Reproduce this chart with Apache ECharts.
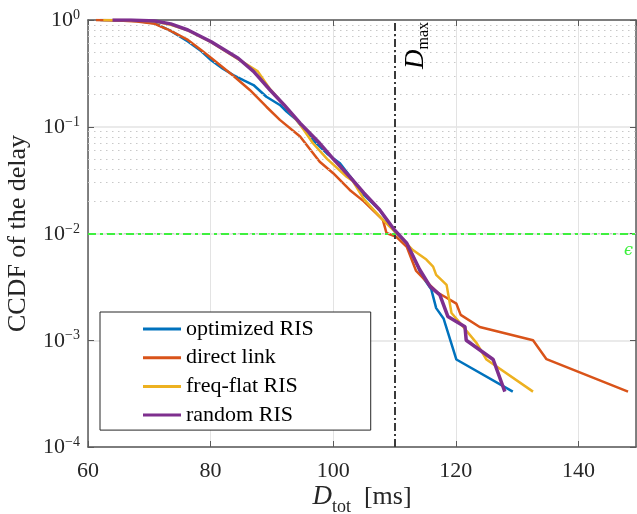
<!DOCTYPE html>
<html><head><meta charset="utf-8">
<script src="https://cdn.jsdelivr.net/npm/echarts@6/dist/echarts.min.js"></script>
<style>html,body{margin:0;padding:0;background:#fff}#c{width:637px;height:514px}</style>
</head><body><div id="c"></div>
<script>
const seriesNames = ['optimized RIS', 'direct link', 'freq-flat RIS', 'random RIS'];
const seriesColors = ['#0072BD', '#D95319', '#EDB120', '#7E2F8E'];

const optX = [62, 65, 68, 70.9, 73.5, 76.3, 78.5, 80.1, 82, 83.7, 85.5, 87, 89.1, 91.3, 92.4, 94, 96.7, 99, 101.1, 103, 105, 107.6, 110, 112, 113, 114.5, 116, 116.8, 118, 120.1, 129.3];
const optY = [1.0, 0.995, 0.98, 0.93, 0.79, 0.63, 0.51, 0.42, 0.35, 0.305, 0.27, 0.246, 0.191, 0.16, 0.139, 0.116, 0.075, 0.056, 0.0455, 0.033, 0.023, 0.0166, 0.0105, 0.0081, 0.0062, 0.0040, 0.0030, 0.0020, 0.0016, 0.00066, 0.00033];

const dirX = [61.3, 65, 68, 70.9, 73.5, 76.3, 78.5, 80.1, 83.7, 86.4, 89.1, 91.3, 94.6, 97.8, 100, 102.7, 105, 108.1, 108.7, 110.3, 112, 113.5, 115.5, 117, 118.5, 119, 120.1, 120.8, 123.9, 132.6, 134.8, 148.1];
const dirY = [1.0, 0.99, 0.97, 0.92, 0.79, 0.65, 0.52, 0.44, 0.3, 0.221, 0.154, 0.116, 0.081, 0.047, 0.0367, 0.0256, 0.02, 0.0134, 0.0101, 0.0093, 0.0075, 0.0045, 0.0034, 0.0028, 0.0025, 0.0024, 0.0022, 0.00173, 0.00133, 0.001, 0.000665, 0.00033];

const ffX = [62.5, 65, 68, 70.9, 73.5, 76.3, 80.1, 84.5, 87.7, 89.7, 92, 94.6, 96.7, 99, 102.2, 103.2, 105, 108.1, 110.3, 113, 115.2, 116.3, 116.8, 118.5, 119.3, 121.2, 123.4, 125, 132.6];
const ffY = [1.0, 1.0, 0.99, 0.97, 0.9, 0.8, 0.62, 0.43, 0.33, 0.225, 0.16, 0.105, 0.07, 0.05, 0.034, 0.031, 0.021, 0.0134, 0.0101, 0.007, 0.0057, 0.0049, 0.0041, 0.0033, 0.0018, 0.00134, 0.00094, 0.00066, 0.00033];

const rndX = [64, 67, 70.9, 73.5, 76.3, 80.1, 84.5, 87, 89.7, 92, 94.6, 97.8, 100, 102.7, 105, 107.6, 110, 112, 114.1, 115.8, 117.4, 118.7, 121.5, 121.7, 126.1, 128];
const rndY = [1.0, 1.0, 0.978, 0.92, 0.806, 0.626, 0.438, 0.33, 0.221, 0.16, 0.108, 0.07, 0.05, 0.034, 0.024, 0.0166, 0.0108, 0.0081, 0.0046, 0.0032, 0.00266, 0.00167, 0.00134, 0.001, 0.00066, 0.00033];

const xTicks = [60, 80, 100, 120, 140];
const yDecades = [1e-4, 1e-3, 1e-2, 1e-1, 1];
const minorMultiples = [2, 3, 4, 5, 6, 7, 8, 9];
const dMax = 110;
const epsLevel = 0.01;

const FONT = 'Liberation Serif';
const TXT = '#262626';
const AX = '#5a5a5a';

const xs = [optX, dirX, ffX, rndX];
const ys = [optY, dirY, ffY, rndY];
const widths = [2.5, 2.5, 2.5, 3.5];

const minorLines = [];
yDecades.slice(0, -1).forEach(d => minorMultiples.forEach(m => minorLines.push({ yAxis: d * m })));

function supLabel(v) {
  const e = Math.round(Math.log10(v));
  return '{b|10}{s|' + (e === 0 ? '0' : '\u2212' + (-e)) + '}';
}

const series = seriesNames.map((name, k) => ({
  name, type: 'line', symbol: 'none', showSymbol: false, z: 3 + k,
  lineStyle: { color: seriesColors[k], width: widths[k] },
  itemStyle: { color: seriesColors[k] },
  data: xs[k].map((x, i) => [x, ys[k][i]])
}));

series.unshift({
  name: 'minorgrid', type: 'line', data: [], z: 1, silent: true,
  markLine: {
    silent: true, symbol: ['none', 'none'], label: { show: false },
    lineStyle: { color: '#c8c8c8', width: 1, type: [1.5, 4.5] },
    data: minorLines
  }
});

series.push({
  name: 'refs', type: 'line', data: [], z: 10, silent: true,
  markLine: {
    silent: true, symbol: ['none', 'none'], animation: false,
    data: [
      {
        xAxis: dMax,
        lineStyle: { color: '#3a3a3a', width: 2, type: [8, 3, 2, 3] },
        label: {
          show: true, position: 'insideEndBottom', distance: [2, 8],
          formatter: '{i|D}{sub|max}',
          rich: {
            i: { fontFamily: FONT, fontStyle: 'italic', fontSize: 27, color: '#000', padding: [0, 0, 2, 0], verticalAlign: 'bottom' },
            sub: { fontFamily: FONT, fontSize: 16, color: '#000', verticalAlign: 'bottom' }
          }
        }
      },
      {
        yAxis: epsLevel,
        lineStyle: { color: '#3ef03e', width: 2, type: [8, 4, 3, 4] },
        label: {
          show: true, position: 'insideEndBottom', distance: [3, 9],
          formatter: '\u03f5', color: '#3ef03e', fontFamily: 'DejaVu Serif', fontStyle: 'italic', fontSize: 16
        }
      }
    ]
  }
});

const chart = echarts.init(document.getElementById('c'));
chart.setOption({
  animation: false,
  backgroundColor: '#fff',
  grid: { left: 88, right: 1, top: 20, bottom: 67, containLabel: false, outerBoundsMode: 'none' },
  legend: {
    data: seriesNames, orient: 'vertical', left: 100, top: 312,
    padding: [6, 57, 4, 43], itemWidth: 38, itemHeight: 14, itemGap: 6.7,
    backgroundColor: '#fff', borderColor: '#262626', borderWidth: 1,
    textStyle: { fontFamily: FONT, fontSize: 22, color: '#000' },
    icon: 'path://M0,6 L38,6 L38,9 L0,9 Z'
  },
  xAxis: [{
    type: 'value', min: 60, max: 149.4, interval: 20,
    name: '{i|D}{sub|tot}{n|  [ms]}', nameLocation: 'middle', nameGap: 36, nameMoveOverlap: false,
    nameTextStyle: {
      rich: {
        i: { fontFamily: FONT, fontStyle: 'italic', fontSize: 27, color: TXT, padding: [0, 0, 6, 0], verticalAlign: 'bottom' },
        sub: { fontFamily: FONT, fontSize: 18, color: TXT, verticalAlign: 'bottom' },
        n: { fontFamily: FONT, fontSize: 26, color: TXT, padding: [0, 0, 6, 0], verticalAlign: 'bottom' }
      }
    },
    axisLine: { onZero: false, lineStyle: { color: AX, width: 1.5 } },
    axisTick: { inside: true, length: 6, lineStyle: { color: AX } },
    axisLabel: { fontFamily: FONT, fontSize: 22, color: TXT, margin: 13, showMaxLabel: false },
    splitLine: { show: true, lineStyle: { color: '#e3e3e3', width: 1 } }
  }, {
    type: 'value', min: 60, max: 149.4, interval: 20, position: 'top',
    axisLine: { onZero: false, lineStyle: { color: AX, width: 1.5 } },
    axisTick: { inside: true, length: 6, lineStyle: { color: AX } },
    axisLabel: { show: false }, splitLine: { show: false }
  }],
  yAxis: [{
    type: 'log', logBase: 10, min: 1e-4, max: 1,
    name: 'CCDF of the delay', nameLocation: 'middle', nameGap: 57, nameRotate: 90, nameMoveOverlap: false,
    nameTextStyle: { fontFamily: FONT, fontSize: 26, color: TXT },
    axisLine: { onZero: false, lineStyle: { color: AX, width: 1.5 } },
    axisTick: { inside: true, length: 6, lineStyle: { color: AX } },
    axisLabel: {
      margin: 8, formatter: supLabel,
      rich: {
        b: { fontFamily: FONT, fontSize: 22, color: TXT, verticalAlign: 'bottom' },
        s: { fontFamily: FONT, fontSize: 14, color: TXT, verticalAlign: 'bottom', padding: [0, 0, 9, 0] }
      }
    },
    splitLine: { show: true, lineStyle: { color: '#e3e3e3', width: 1.5 } }
  }, {
    type: 'log', logBase: 10, min: 1e-4, max: 1, position: 'right',
    axisLine: { onZero: false, lineStyle: { color: AX, width: 1.5 } },
    axisTick: { inside: true, length: 6, lineStyle: { color: AX } },
    axisLabel: { show: false }, splitLine: { show: false }
  }],
  series
});
</script></body></html>
